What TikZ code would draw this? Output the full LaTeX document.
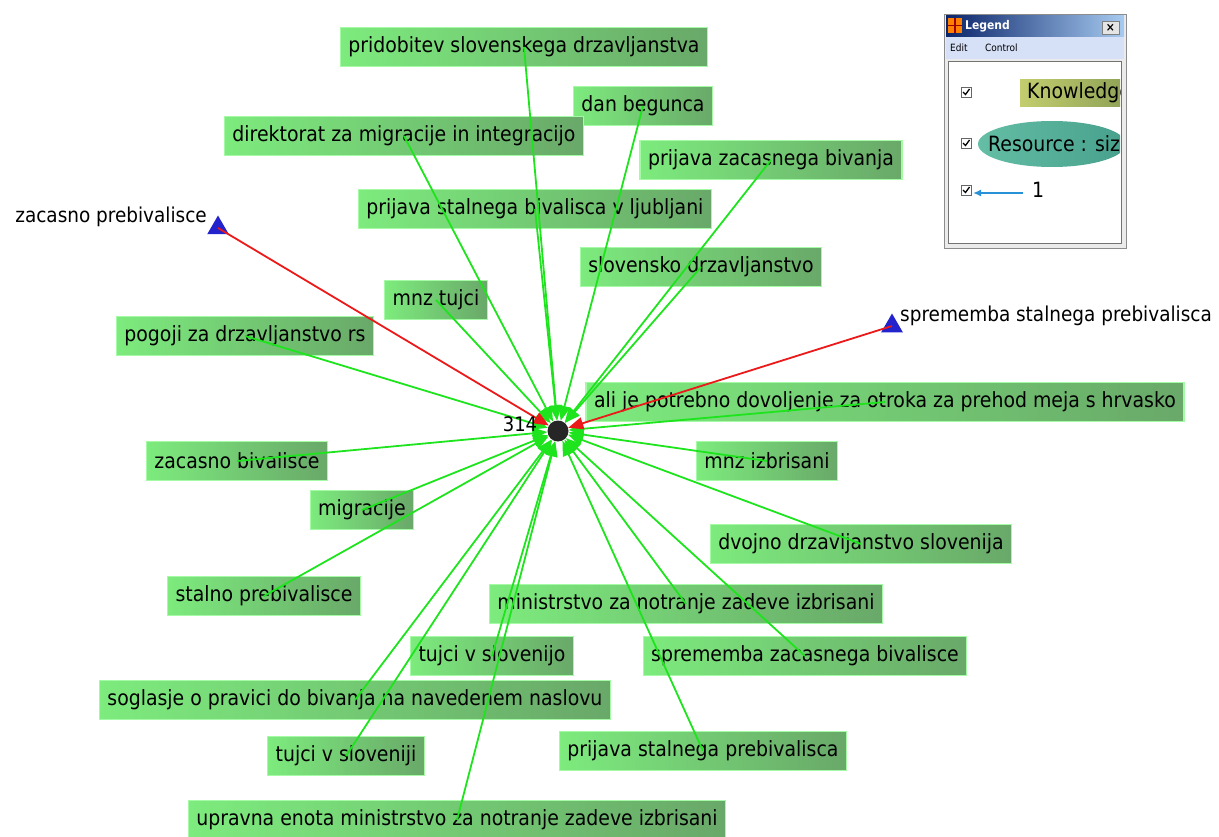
\documentclass[tikz,border=0pt]{standalone}
\usepackage{fontspec}
\setmainfont{DejaVu Sans Condensed}
\usepackage{tikz}
\usetikzlibrary{arrows.meta,positioning,shapes.geometric}

\definecolor{boxlight}{RGB}{125,235,125}
\definecolor{boxdark}{RGB}{105,168,105}
\definecolor{boxrim}{RGB}{165,250,165}
\definecolor{linkgreen}{RGB}{30,228,30}
\definecolor{linkred}{RGB}{235,25,25}
\definecolor{agentblue}{RGB}{35,35,205}
\definecolor{titledark}{RGB}{10,36,106}
\definecolor{titlelight}{RGB}{166,202,240}
\definecolor{menubar}{RGB}{214,224,246}
\definecolor{knowlight}{RGB}{195,205,110}
\definecolor{knowdark}{RGB}{140,160,85}
\definecolor{reslight}{RGB}{100,190,165}
\definecolor{resdark}{RGB}{70,160,140}
\definecolor{legendarrow}{RGB}{40,145,215}

\begin{document}
\begin{tikzpicture}[
    x=1pt, y=-1pt,
    >={Triangle[length=15pt,width=12pt]},
    knowledge/.style={
        rectangle,
        left color=boxlight,
        right color=boxdark,
        draw=boxrim,
        line width=1.2pt,
        minimum height=39pt,
        inner xsep=8pt,
        font=\fontsize{21}{21}\selectfont
    },
    agent/.style={
        regular polygon,
        regular polygon sides=3,
        fill=agentblue,
        minimum size=25pt,
        inner sep=0pt
    },
    agentlabel/.style={
        font=\fontsize{20.5}{20.5}\selectfont,
        inner sep=0pt
    },
    link/.style={
        ->,
        linkgreen,
        line width=1.8pt
    },
    agentlink/.style={
        ->,
        linkred,
        line width=1.8pt
    }
]

\useasboundingbox (0,0) rectangle (1219,837);

% Knotenpunkt in der Mitte
\node[
    circle,
    fill=black!85,
    minimum size=21pt,
    inner sep=0pt
] (hub) at (558,431) {};

% Wissensknoten
\node[knowledge] (pridobitev) at (524,47) {pridobitev slovenskega drzavljanstva};
\node[knowledge] (danbegunca) at (643,106) {dan begunca};
\node[knowledge] (direktorat) at (404,136) {direktorat za migracije in integracijo};
\node[knowledge] (prijavazac) at (771,160) {prijava zacasnega bivanja};
\node[knowledge] (prijavalj) at (535,209) {prijava stalnega bivalisca v ljubljani};
\node[knowledge] (slovdrz) at (701,267) {slovensko drzavljanstvo};
\node[knowledge] (mnztujci) at (436,300) {mnz tujci};
\node[knowledge] (pogoji) at (245,336) {pogoji za drzavljanstvo rs};
\node[knowledge] (otroka) at (885,402) {ali je potrebno dovoljenje za otroka za prehod meja s hrvasko};
\node[knowledge] (mnzizbr) at (767,461) {mnz izbrisani};
\node[knowledge] (zacbiv) at (237,461) {zacasno bivalisce};
\node[knowledge] (migracije) at (362,510) {migracije};
\node[knowledge] (dvojno) at (861,544) {dvojno drzavljanstvo slovenija};
\node[knowledge] (stalnoprb) at (264,596) {stalno prebivalisce};
\node[knowledge] (ministrstvo) at (686,604) {ministrstvo za notranje zadeve izbrisani};
\node[knowledge] (tujcislo) at (492,656) {tujci v slovenijo};
\node[knowledge] (spremzac) at (805,656) {sprememba zacasnega bivalisce};
\node[knowledge] (soglasje) at (355,700) {soglasje o pravici do bivanja na navedenem naslovu};
\node[knowledge] (tujcisli) at (346,756) {tujci v sloveniji};
\node[knowledge] (prijavaprb) at (703,751) {prijava stalnega prebivalisca};
\node[knowledge] (upravna) at (457,820) {upravna enota ministrstvo za notranje zadeve izbrisani};

% Agenten
\node[agent] (zacprb) at (218,228) {};
\node[agentlabel, anchor=east] (zacprblabel) at (207,217) {zacasno prebivalisce};
\node[agent] (spremstal) at (892,326) {};
\node[agentlabel, anchor=west] (spremstallabel) at (900,316) {sprememba stalnega prebivalisca};

% Kanten
\foreach \n in {pridobitev,danbegunca,direktorat,prijavazac,prijavalj,slovdrz,
    mnztujci,pogoji,otroka,mnzizbr,zacbiv,migracije,dvojno,stalnoprb,ministrstvo,
    tujcislo,spremzac,soglasje,tujcisli,prijavaprb,upravna}
    \draw[link] (\n.center) -- (hub);

\draw[agentlink] (zacprb.center) -- (hub);
\draw[agentlink] (spremstal.center) -- (hub);

% Zahl am Knotenpunkt
\node[font=\fontsize{20}{20}\selectfont, inner sep=0pt] (hubcount) at (520,424) {314};

% Legende
\draw[fill=black!8, draw=black!45] (944,14) rectangle (1126,248);
\shade[left color=titledark, right color=titlelight] (946,16) rectangle (1124,37);
\fill[orange] (948,18) rectangle (962,33);
\draw[red!60!black, line width=1.2pt] (955,18) -- (955,33) (948,25.5) -- (962,25.5);
\node[
    anchor=west,
    white,
    font=\bfseries\fontsize{12}{12}\selectfont,
    inner sep=0pt
] (legendtitle) at (965,26) {Legend};
\draw[fill=black!10, draw=black!50] (1102,21) rectangle (1119,34);
\node[font=\bfseries\fontsize{12}{12}\selectfont, inner sep=0pt] (legendclose) at (1110.5,27.5) {×};
\fill[menubar] (946,37) rectangle (1124,59);
\node[anchor=west, font=\fontsize{10}{10}\selectfont, inner sep=0pt] (menuedit) at (950,48) {Edit};
\node[anchor=west, font=\fontsize{10}{10}\selectfont, inner sep=0pt] (menucontrol) at (985,48) {Control};
\draw[fill=white, draw=black!55, line width=1pt] (948,62) rectangle (1121,244);

\begin{scope}
    \clip (949,63) rectangle (1120,243);
    \shade[left color=knowlight, right color=knowdark] (1020,80) rectangle (1130,107);
    \node[anchor=west, font=\fontsize{21}{21}\selectfont, inner sep=0pt] (legendknow) at (1027,93) {Knowledge};
    \shade[left color=reslight, right color=resdark] (1052,144) ellipse (74 and 23);
    \node[anchor=west, font=\fontsize{21}{21}\selectfont, inner sep=0pt] (legendres) at (988,144) {Resource : size};
\end{scope}

\foreach \y in {92,143,190} {
    \draw[fill=white, draw=black!60] (961,\y-5) rectangle (971,\y+5);
    \draw[line width=1.3pt] (963,\y) -- (965.5,\y+2.5) -- (969.5,\y-3);
}
\draw[
    -{Latex[length=8pt,width=7pt]},
    legendarrow,
    line width=1.8pt
] (1023,193) -- (973,193);
\node[anchor=west, font=\fontsize{21}{21}\selectfont, inner sep=0pt] (legendone) at (1032,190) {1};

\end{tikzpicture}
\end{document}
